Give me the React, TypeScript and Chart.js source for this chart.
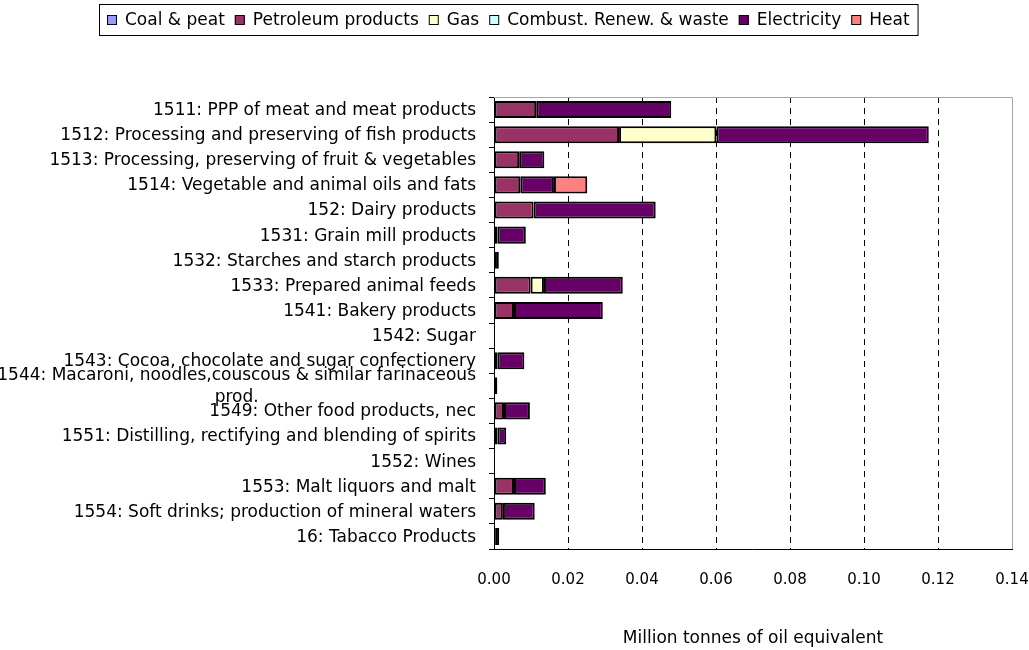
import React, { useEffect, useRef } from "react";
import { Chart, registerables } from "chart.js";

Chart.register(...registerables);

const categories: (string | string[])[] = [
  "1511: PPP of meat and meat products",
  "1512: Processing and preserving of fish products",
  "1513: Processing, preserving of fruit & vegetables",
  "1514: Vegetable and animal oils and fats",
  "152: Dairy products",
  "1531: Grain mill products",
  "1532: Starches and starch products",
  "1533: Prepared animal feeds",
  "1541: Bakery products",
  "1542: Sugar",
  "1543: Cocoa, chocolate and sugar confectionery",
  ["1544: Macaroni, noodles,couscous & similar farinaceous", "prod."],
  "1549: Other food products, nec",
  "1551: Distilling, rectifying and blending of spirits",
  "1552: Wines",
  "1553: Malt liquors and malt",
  "1554: Soft drinks; production of mineral waters",
  "16: Tabacco Products",
];

const seriesNames = [
  "Coal & peat",
  "Petroleum products",
  "Gas",
  "Combust. Renew. & waste",
  "Electricity",
  "Heat",
];

const coalPeat = [0, 0, 0, 0, 0, 0, 0, 0, 0, 0, 0, 0, 0, 0, 0, 0, 0, 0];
const petroleum = [0.0114, 0.0338, 0.0068, 0.0071, 0.0107, 0.0009, 0.0008, 0.0099, 0.0054, 0, 0.0009, 0, 0.0027, 0.0009, 0, 0.0054, 0.0024, 0.0003];
const gas = [0, 0.0263, 0, 0, 0, 0, 0, 0.0036, 0, 0, 0, 0, 0, 0, 0, 0, 0, 0];
const combustRenew = [0, 0, 0, 0, 0, 0, 0, 0, 0, 0, 0, 0, 0, 0, 0, 0, 0, 0];
const electricity = [0.0365, 0.0574, 0.0068, 0.0091, 0.033, 0.0077, 0.0005, 0.0213, 0.024, 0, 0.0073, 0.0009, 0.007, 0.0024, 0, 0.0086, 0.0086, 0.0011];
const heat = [0, 0, 0, 0.009, 0, 0, 0, 0, 0, 0, 0, 0, 0, 0, 0, 0, 0, 0];

const seriesColors = ["#9999FF", "#993366", "#FFFFCC", "#CCFFFF", "#660066", "#FF8080"];

const xTickMin = 0;
const xTickMax = 0.14;
const xTickStep = 0.02;
const xTitle = "Million tonnes of oil equivalent";

const FONT = '"DejaVu Sans", "Liberation Sans", sans-serif';

const legendPlugin = {
  id: "boxLegend",
  afterDraw(chart: any) {
    const ctx = chart.ctx;
    ctx.save();
    ctx.font = `17px ${FONT}`;
    const box = 10;
    const gapBT = 8;
    const gapTB = 10;
    const items = chart.data.datasets.map((d: any) => ({
      label: d.label,
      color: d.backgroundColor,
      w: ctx.measureText(d.label).width,
    }));
    let total = 0;
    items.forEach((it: any, i: number) => {
      total += box + gapBT + it.w + (i < items.length - 1 ? gapTB : 0);
    });
    const cx = 508.5;
    const pad = 8;
    const left = Math.round(cx - total / 2);
    const cy = 20;
    ctx.strokeStyle = "#000";
    ctx.lineWidth = 1;
    ctx.strokeRect(left - pad + 0.5, 4.5, total + pad * 2, 31);
    let x = left;
    ctx.textBaseline = "middle";
    ctx.textAlign = "left";
    items.forEach((it: any) => {
      ctx.fillStyle = it.color;
      ctx.fillRect(x, cy - box / 2, box, box);
      ctx.strokeStyle = "#000";
      ctx.strokeRect(x + 0.5, cy - box / 2 + 0.5, box - 1, box - 1);
      ctx.fillStyle = "#000";
      ctx.fillText(it.label, x + box + gapBT, cy + 1);
      x += box + gapBT + it.w + gapTB;
    });
    ctx.restore();
  },
};

const frameAndLabelsPlugin = {
  id: "frameAndLabels",
  afterDraw(chart: any) {
    const ctx = chart.ctx;
    const { top, right, left, bottom } = chart.chartArea;
    ctx.save();
    ctx.strokeStyle = "#a6a6a6";
    ctx.lineWidth = 1;
    ctx.beginPath();
    ctx.moveTo(left, Math.round(top) + 0.5);
    ctx.lineTo(Math.round(right) + 0.5, Math.round(top) + 0.5);
    ctx.lineTo(Math.round(right) + 0.5, bottom);
    ctx.stroke();

    const yScale = chart.scales.y;
    ctx.font = `17px ${FONT}`;
    ctx.fillStyle = "#000";
    ctx.textBaseline = "middle";
    const rightX = left - 18;
    const lh = 22;
    chart.data.labels.forEach((lab: any, i: number) => {
      const y = yScale.getPixelForTick(i);
      const lines: string[] = Array.isArray(lab) ? lab : [lab];
      if (lines.length === 1) {
        ctx.textAlign = "right";
        ctx.fillText(lines[0], rightX, y + 1);
      } else {
        const maxW = Math.max(...lines.map((l) => ctx.measureText(l).width));
        const cx = rightX - maxW / 2;
        ctx.textAlign = "center";
        const y0 = y - ((lines.length - 1) * lh) / 2;
        lines.forEach((l, k) => ctx.fillText(l, cx, y0 + k * lh + 1));
      }
    });
    ctx.restore();
  },
};

export default function App() {
  const canvasRef = useRef<HTMLCanvasElement | null>(null);

  useEffect(() => {
    document.body.style.margin = "0";
    const canvas = canvasRef.current;
    if (!canvas) return;
    const seriesData = [coalPeat, petroleum, gas, combustRenew, electricity, heat];
    const chart = new Chart(canvas, {
      type: "bar",
      data: {
        labels: categories as any,
        datasets: seriesNames.map((name, i) => ({
          label: name,
          data: seriesData[i],
          backgroundColor: seriesColors[i],
          borderColor: "#000",
          borderWidth: 2,
          borderSkipped: false,
          barPercentage: 0.68,
          categoryPercentage: 1,
        })),
      },
      options: {
        indexAxis: "y",
        responsive: false,
        animation: false,
        devicePixelRatio: 1,
        layout: { padding: { top: 97, left: 0, right: 0, bottom: 0 } },
        plugins: {
          legend: { display: false },
          tooltip: { enabled: false },
          title: { display: false },
        },
        scales: {
          x: {
            type: "linear",
            stacked: true,
            min: xTickMin,
            max: xTickMax,
            afterFit: (scale: any) => {
              scale.height = 101;
              scale.paddingRight = 17;
              scale.paddingLeft = 0;
            },
            ticks: {
              stepSize: xTickStep,
              padding: 22,
              color: "#000",
              font: { family: FONT, size: 15 },
              callback: (v: any) => Number(v).toFixed(2),
              maxRotation: 0,
            },
            grid: {
              drawTicks: false,
              lineWidth: 1,
              color: (c: any) => {
                const v = c.tick ? c.tick.value : 0;
                return v > 0.001 && v < xTickMax - 0.001 ? "#000" : "rgba(0,0,0,0)";
              },
            },
            border: { display: true, color: "#000", width: 1, dash: [6, 5] },
            title: {
              display: true,
              text: xTitle,
              color: "#000",
              font: { family: FONT, size: 17 },
              padding: { top: 0, bottom: 1 },
            },
          },
          y: {
            type: "category",
            stacked: true,
            offset: true,
            afterFit: (scale: any) => {
              scale.width = 494;
            },
            ticks: { display: false },
            grid: {
              offset: true,
              drawOnChartArea: false,
              drawTicks: true,
              tickLength: 5,
              color: "#000",
              lineWidth: 1,
            },
            border: { display: true, color: "#000", width: 1 },
          },
        },
      } as any,
      plugins: [legendPlugin, frameAndLabelsPlugin],
    });
    return () => chart.destroy();
  }, []);

  return (
    <div style={{ width: 1029, height: 650, background: "#fff" }}>
      <canvas ref={canvasRef} width={1029} height={650} style={{ display: "block" }} />
    </div>
  );
}
